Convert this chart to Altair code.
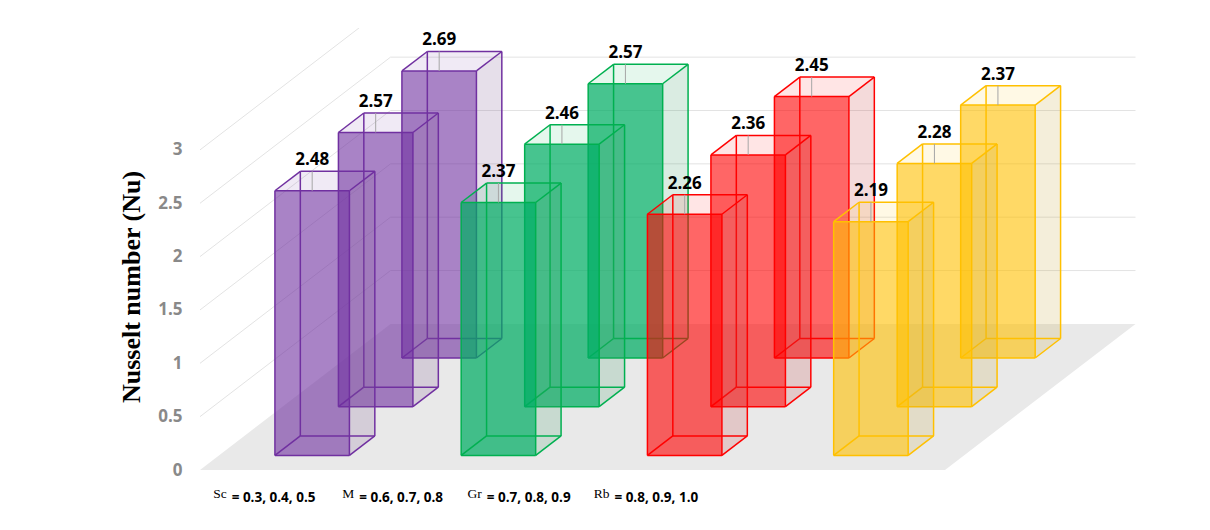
import altair as alt
import pandas as pd

# ---------------- data ----------------
categories = ["Sc", "M", "Gr", "Rb"]
param_ranges = ["= 0.3, 0.4, 0.5", "= 0.6, 0.7, 0.8", "= 0.7, 0.8, 0.9", "= 0.8, 0.9, 1.0"]
sc_nu = [2.48, 2.57, 2.69]
m_nu = [2.37, 2.46, 2.57]
gr_nu = [2.26, 2.36, 2.45]
rb_nu = [2.19, 2.28, 2.37]
y_ticks = [0, 0.5, 1, 1.5, 2, 2.5, 3]

series = [sc_nu, m_nu, gr_nu, rb_nu]

# ---------------- style ----------------
edge_colors = ["#7030A0", "#00B050", "#FF0000", "#FFC000"]
front_colors = ["#7030A0", "#00AD64", "#FF0000", "#FFC000"]
front_opacity = [0.6, 0.72, 0.6, 0.6]
side_colors = ["#806098", "#48A070", "#C84848", "#C8A848"]
top_colors = ["#7030A0", "#00B050", "#FF0000", "#FFC000"]

# pseudo-3D projection (category units on x, value units on y)
PX_PER_U = 186.25
PX_PER_V = 106.7
DEPTH_DX = 63.5 / PX_PER_U
DEPTH_DY = 48.7 / PX_PER_V
PLOT_W, PLOT_H = 936, 442
N_ROWS = 3
X_SCALE = alt.Scale(domain=[0, PLOT_W / PX_PER_U], nice=False, zero=False)
Y_SCALE = alt.Scale(domain=[0, PLOT_H / PX_PER_V], nice=False, zero=False)


def px(u, w):
    return u + DEPTH_DX * w


def py(v, w):
    return v + DEPTH_DY * w


def X(f="x"):
    return alt.X(f"{f}:Q", scale=X_SCALE, axis=None, stack=False)


def Y(f="y"):
    # axis properties come from the explicit axis of the floor layer
    return alt.Y(f"{f}:Q", scale=Y_SCALE, stack=False)


y_axis = alt.Axis(
    values=y_ticks, format="~g", domain=False, ticks=False, tickSize=0, grid=False,
    labelPadding=18, labelFont="Open Sans", labelFontSize=17, labelFontWeight="bold",
    labelColor="#898989", labelFlush=False,
    title="Nusselt number (Nu)", titleFont="Liberation Serif", titleFontSize=26,
    titleFontWeight="bold", titleColor="#000000", titleAngle=270,
    titleX=-61, titleY=258.5, titleAlign="center", titleBaseline="alphabetic",
)

layers = []

# floor
n_cat = len(categories)
floor_df = pd.DataFrame([
    {"y": py(0, 0), "x": px(0, 0), "x2": px(n_cat, 0)},
    {"y": py(0, N_ROWS), "x": px(0, N_ROWS), "x2": px(n_cat, N_ROWS)},
])
layers.append(
    alt.Chart(floor_df).mark_area(orient="horizontal", color="#E9E9E9")
    .encode(y=alt.Y("y:Q", scale=Y_SCALE, axis=y_axis, stack=False), x=X("x"), x2="x2:Q")
)

# wall gridlines
grid_rows = []
for v in y_ticks[1:]:
    grid_rows.append({"x": px(0, 0), "y": py(v, 0), "x2": px(0, N_ROWS), "y2": py(v, N_ROWS)})
    grid_rows.append({"x": px(0, N_ROWS), "y": py(v, N_ROWS), "x2": px(n_cat, N_ROWS), "y2": py(v, N_ROWS)})
layers.append(
    alt.Chart(pd.DataFrame(grid_rows)).mark_rule(color="#E3E3E3", strokeWidth=1, clip=True)
    .encode(x=X("x"), y=Y("y"), x2="x2:Q", y2="y2:Q")
)

label_rows = []
leader_rows = []

for c, vals in enumerate(series):
    for r in [2, 1, 0]:
        v = vals[r]
        u0, u1 = c + 0.3, c + 0.7
        w0, w1 = r + 0.3, r + 0.7

        side_df = pd.DataFrame([
            {"x": px(u1, w0), "y": py(v, w0), "y2": py(0, w0)},
            {"x": px(u1, w1), "y": py(v, w1), "y2": py(0, w1)},
        ])
        top_df = pd.DataFrame([
            {"y": py(v, w0), "x": px(u0, w0), "x2": px(u1, w0)},
            {"y": py(v, w1), "x": px(u0, w1), "x2": px(u1, w1)},
        ])
        front_df = pd.DataFrame([
            {"x": px(u0, w0), "x2": px(u1, w0), "y": py(0, w0), "y2": py(v, w0)},
        ])

        def P(u, w, vv):
            return px(u, w), py(vv, w)

        segs = []
        for w in (w0, w1):
            for vv in (0, v):
                segs.append((P(u0, w, vv), P(u1, w, vv)))
        for u in (u0, u1):
            for vv in (0, v):
                segs.append((P(u, w0, vv), P(u, w1, vv)))
        for u in (u0, u1):
            for w in (w0, w1):
                segs.append((P(u, w, 0), P(u, w, v)))
        edge_df = pd.DataFrame([
            {"x": a[0], "y": a[1], "x2": b[0], "y2": b[1]} for a, b in segs
        ])

        layers.append(
            alt.Chart(side_df).mark_area(orient="vertical", color=side_colors[c], opacity=0.2)
            .encode(x=X("x"), y=Y("y"), y2="y2:Q")
        )
        layers.append(
            alt.Chart(top_df).mark_area(orient="horizontal", color=top_colors[c], opacity=0.1)
            .encode(y=Y("y"), x=X("x"), x2="x2:Q")
        )
        layers.append(
            alt.Chart(front_df).mark_rect(color=front_colors[c], opacity=front_opacity[c])
            .encode(x=X("x"), x2="x2:Q", y=Y("y"), y2="y2:Q")
        )
        layers.append(
            alt.Chart(edge_df).mark_rule(color=edge_colors[c], strokeWidth=1.5)
            .encode(x=X("x"), y=Y("y"), x2="x2:Q", y2="y2:Q")
        )

        label_rows.append({"x": px(c + 0.5, w0), "y": py(v, w1), "label": f"{v:.2f}"})
        leader_rows.append({"x": px(c + 0.5, w0), "y": py(v, w0), "x2": px(c + 0.5, w0), "y2": py(v, w1)})

layers.append(
    alt.Chart(pd.DataFrame(leader_rows)).mark_rule(color="#A6A6A6", strokeWidth=1)
    .encode(x=X("x"), y=Y("y"), x2="x2:Q", y2="y2:Q")
)
layers.append(
    alt.Chart(pd.DataFrame(label_rows)).mark_text(
        font="Open Sans", fontSize=17, fontWeight="bold", color="#000000",
        baseline="alphabetic", align="center", dy=-6)
    .encode(x=X("x"), y=Y("y"), text="label:N")
)

# bottom parameter captions
cap_df = pd.DataFrame({
    "x": [0.17 + 0.685 * i for i in range(n_cat)],
    "y": [0.0] * n_cat,
    "name": categories,
    "rng": param_ranges,
})
layers.append(
    alt.Chart(cap_df).mark_text(
        font="Liberation Serif", fontSize=13.5, color="#000000",
        baseline="alphabetic", align="right", dx=-5, dy=28)
    .encode(x=X("x"), y=Y("y"), text="name:N")
)
layers.append(
    alt.Chart(cap_df).mark_text(
        font="Open Sans", fontSize=13.5, fontWeight="bold", color="#000000",
        baseline="alphabetic", align="left", dy=31.5)
    .encode(x=X("x"), y=Y("y"), text="rng:N")
)

chart = alt.layer(*layers).properties(
    width=PLOT_W, height=PLOT_H,
    autosize=alt.AutoSizeParams(type="none"),
    padding={"left": 192, "top": 20, "right": 62, "bottom": 48},
    background="#FFFFFF",
).configure_view(strokeWidth=0)

chart.save("out.html", embed_options={"renderer": "svg", "actions": False})
